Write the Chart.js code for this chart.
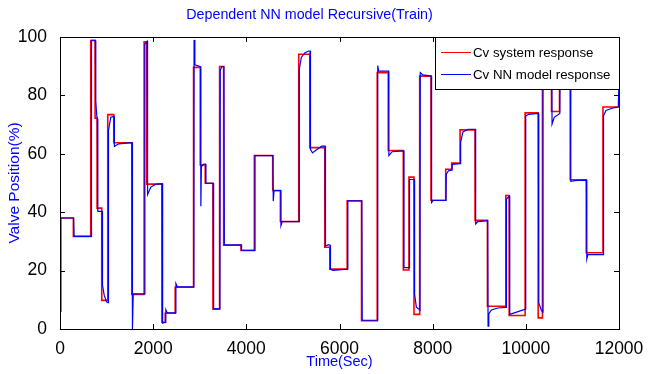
<!DOCTYPE html>
<html>
<head>
<meta charset="utf-8">
<script src="https://cdn.jsdelivr.net/npm/chart.js"></script>
<style>
  body { margin: 0; background: #fff; }
  #wrap { width: 654px; height: 374px; }
</style>
</head>
<body>
<div id="wrap"><canvas id="grafico" width="654" height="374"></canvas></div>
<script>
// valores (degraus da resposta do sistema)
const tempoDegrau = [0, 287, 660, 753, 796, 896, 1025, 1154, 1541, 1806, 1864, 2187, 2258, 2473, 2867,
    3011, 3118, 3283, 3426, 3513, 3885, 4172, 4566, 4731, 5125, 5362, 5685, 5792, 6165, 6473, 6810,
    7047, 7370, 7491, 7599, 7721, 7964, 8280, 8409, 8588, 8910, 9176, 9570, 9642, 9985, 10265, 10357,
    10551, 10723, 10953, 11297, 11656, 12000];
const cvSistema = [38, 31.7, 98.8, 72.2, 41.4, 9.8, 73.4, 63.8, 11.8, 98.3, 49.6, 2.3, 5.4, 14.3, 89.6,
    56.2, 49.9, 6.8, 89.9, 28.7, 26.9, 59.4, 47.4, 36.8, 94.1, 62.1, 28, 20.5, 43.9, 2.8, 87.8,
    61.1, 20.2, 52, 5, 86.6, 44.1, 54.7, 56.8, 68.2, 37.2, 7.8, 45.7, 4.6, 74, 3.8, 95,
    74.5, 92, 51.1, 26.1, 76, 76];

const tempoModelo = [0, 20, 293, 303, 666, 676, 759, 768, 790, 802, 812, 902, 912, 950, 1000, 1031, 1041,
    1090, 1160, 1168, 1260, 1547, 1555, 1572, 1812, 1822, 1870, 1880, 1950, 2060, 2193, 2203, 2264,
    2272, 2300, 2479, 2488, 2520, 2873, 2878, 2895, 3017, 3024, 3035, 3090, 3124, 3133, 3289, 3298,
    3432, 3441, 3470, 3519, 3528, 3890, 3898, 4178, 4186, 4572, 4578, 4595, 4737, 4743, 4770, 5131,
    5138, 5180, 5260, 5340, 5368, 5377, 5420, 5500, 5620, 5691, 5699, 5760, 5798, 5806, 5860, 6171,
    6179, 6479, 6487, 6816, 6821, 6840, 7053, 7060, 7130, 7376, 7384, 7497, 7503, 7605, 7612, 7650,
    7727, 7734, 7790, 7970, 7977, 8010, 8286, 8293, 8340, 8415, 8422, 8594, 8601, 8650, 8760, 8916,
    8923, 8970, 9182, 9189, 9205, 9260, 9400, 9576, 9584, 9648, 9655, 9800, 9990, 9998, 10060, 10271,
    10278, 10330, 10360, 10368, 10556, 10563, 10610, 10729, 10736, 10958, 10965, 11100, 11302, 11309,
    11330, 11661, 11668, 11720, 11850, 11985, 12000];
const cvModelo = [6, 38, 38, 31.7, 31.7, 98.8, 98.8, 78, 73, 72, 40.3, 40.3, 15, 11.5, 9.3, 9, 68,
    72.5, 72.8, 62.5, 63.4, 63.8, 0, 12, 12, 97.5, 98.5, 46, 48.6, 49.6, 49.8, 2, 2.3,
    6.6, 5.6, 5.5, 15.6, 14.4, 14.4, 99, 90.5, 89.8, 42, 55.6, 56.5, 56.5, 49.9, 49.9, 6.9,
    6.9, 88.5, 89.8, 89.8, 28.8, 28.8, 26.9, 26.9, 59.4, 59.4, 43.8, 47.4, 47.4, 35.4, 36.8, 36.8,
    89, 93, 94.6, 95.2, 95.2, 61.5, 60.3, 61.3, 62.6, 62.6, 28.4, 28.9, 28.7, 20.4, 20.1, 20.5,
    43.9, 43.9, 3, 3, 90.2, 88.3, 88.3, 59.4, 60.7, 61, 21, 21, 51.2, 51.2, 12, 7.5,
    6.5, 87.8, 87, 86.6, 43.3, 44, 44, 53, 54.2, 54.4, 56.4, 56.6, 64, 67.5, 68.4, 68.4,
    36, 36.8, 37.1, 1, 5.2, 6.5, 7.2, 7.4, 44.5, 45.5, 5, 5.8, 6.8, 73, 73.5, 73.8,
    9, 6.5, 5.8, 95, 95, 70.2, 72.5, 73.8, 92, 92, 50.6, 50.9, 51, 24,
    25.5, 25.5, 73, 74.8, 75.6, 76, 86];

const ticksX = [0, 2000, 4000, 6000, 8000, 10000, 12000];
const ticksY = [0, 20, 40, 60, 80, 100];

const nomes = ["Cv system response", "Cv NN model response"];
const cores = ["#ff0000", "#0000ff"];

const fonte = "'Liberation Sans', Arial, sans-serif";

function pontos(xs, ys) {
    return xs.map((x, i) => ({ x: x, y: ys[i] }));
}

// moldura estilo MATLAB: caixa, marcas internas e legenda
const moldura = {
    id: "moldura",
    afterDatasetsDraw(chart) {
        const { ctx, chartArea: a, scales } = chart;
        ctx.save();
        ctx.strokeStyle = "#000";
        ctx.lineWidth = 1;
        ctx.beginPath();
        ticksX.forEach(v => {
            const x = Math.round(scales.x.getPixelForValue(v)) + 0.5;
            ctx.moveTo(x, a.bottom); ctx.lineTo(x, a.bottom - 5);
            ctx.moveTo(x, a.top); ctx.lineTo(x, a.top + 5);
        });
        ticksY.forEach(v => {
            const y = Math.round(scales.y.getPixelForValue(v)) + 0.5;
            ctx.moveTo(a.left, y); ctx.lineTo(a.left + 5, y);
            ctx.moveTo(a.right, y); ctx.lineTo(a.right - 5, y);
        });
        ctx.stroke();
        ctx.strokeRect(Math.round(a.left) + 0.5, Math.round(a.top) + 0.5,
            Math.round(a.width), Math.round(a.height));

        // legenda
        const lx = Math.round(a.right) - 184, ly = Math.round(a.top);
        ctx.fillStyle = "#fff";
        ctx.fillRect(lx, ly, 184, 52);
        ctx.strokeRect(lx + 0.5, ly + 0.5, 184, 52);
        ctx.font = "13.3px " + fonte;
        ctx.textBaseline = "middle";
        nomes.forEach((n, i) => {
            const y = ly + 15.5 + i * 22;
            ctx.strokeStyle = cores[i];
            ctx.beginPath();
            ctx.moveTo(lx + 6, y); ctx.lineTo(lx + 36, y);
            ctx.stroke();
            ctx.fillStyle = "#000";
            ctx.fillText(n, lx + 38, y + 1);
        });
        ctx.restore();
    }
};

new Chart(document.getElementById("grafico"), {
    type: "line",
    data: {
        datasets: [{
            label: nomes[0],
            data: pontos(tempoDegrau, cvSistema),
            borderColor: cores[0],
            borderWidth: 1.6,
            stepped: "before",
            pointRadius: 0,
            order: 1
        }, {
            label: nomes[1],
            data: pontos(tempoModelo, cvModelo),
            borderColor: cores[1],
            borderWidth: 1.2,
            tension: 0,
            pointRadius: 0,
            order: 0
        }]
    },
    options: {
        responsive: false,
        animation: false,
        layout: { padding: { right: 35 } },
        plugins: {
            legend: { display: false },
            tooltip: { enabled: false },
            title: {
                display: true,
                text: "Dependent NN model Recursive(Train)",
                color: "#0000ff",
                font: { family: fonte, size: 14.3, weight: "normal" },
                padding: { top: 6.5, bottom: 13.3 }
            }
        },
        scales: {
            x: {
                type: "linear",
                min: 0,
                max: 12000,
                afterFit: s => { s.height = 45; },
                afterBuildTicks: s => { s.ticks = ticksX.map(v => ({ value: v })); },
                ticks: {
                    color: "#000", padding: 2, maxRotation: 0,
                    font: { family: fonte, size: 17.5 },
                    callback: v => String(v)
                },
                grid: { display: false },
                border: { display: false },
                title: {
                    display: true,
                    text: "Time(Sec)",
                    color: "#0000ff",
                    font: { family: fonte, size: 14.5 },
                    padding: { top: 0, bottom: 3 }
                }
            },
            y: {
                min: 0,
                max: 100,
                afterFit: s => { s.width = 60; },
                afterBuildTicks: s => { s.ticks = ticksY.map(v => ({ value: v })); },
                ticks: {
                    color: "#000", padding: 5,
                    font: { family: fonte, size: 17.5 },
                    callback: v => String(v)
                },
                grid: { display: false },
                border: { display: false },
                title: {
                    display: true,
                    text: "Valve Position(%)",
                    color: "#0000ff",
                    font: { family: fonte, size: 15.5 },
                    padding: { top: 5, bottom: 0 }
                }
            }
        }
    },
    plugins: [moldura]
});
</script>
</body>
</html>
